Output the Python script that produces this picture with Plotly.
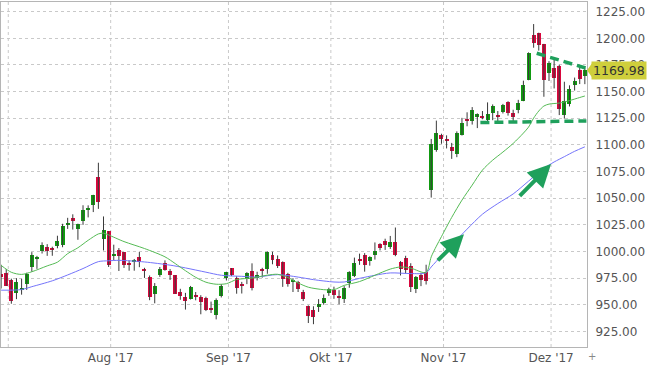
import plotly.graph_objects as go

# ---------------- data ----------------
dates = [
    "2017-06-29", "2017-06-30", "2017-07-03", "2017-07-05", "2017-07-06", "2017-07-07",
    "2017-07-10", "2017-07-11", "2017-07-12", "2017-07-13", "2017-07-14", "2017-07-17",
    "2017-07-18", "2017-07-19", "2017-07-20", "2017-07-21", "2017-07-24", "2017-07-25",
    "2017-07-26", "2017-07-27", "2017-07-28", "2017-07-31", "2017-08-01", "2017-08-02",
    "2017-08-03", "2017-08-04", "2017-08-07", "2017-08-08", "2017-08-09", "2017-08-10",
    "2017-08-11", "2017-08-14", "2017-08-15", "2017-08-16", "2017-08-17", "2017-08-18",
    "2017-08-21", "2017-08-22", "2017-08-23", "2017-08-24", "2017-08-25", "2017-08-28",
    "2017-08-29", "2017-08-30", "2017-08-31", "2017-09-01", "2017-09-05", "2017-09-06",
    "2017-09-07", "2017-09-08", "2017-09-11", "2017-09-12", "2017-09-13", "2017-09-14",
    "2017-09-15", "2017-09-18", "2017-09-19", "2017-09-20", "2017-09-21", "2017-09-22",
    "2017-09-25", "2017-09-26", "2017-09-27", "2017-09-28", "2017-09-29", "2017-10-02",
    "2017-10-03", "2017-10-04", "2017-10-05", "2017-10-06", "2017-10-09", "2017-10-10",
    "2017-10-11", "2017-10-12", "2017-10-13", "2017-10-16", "2017-10-17", "2017-10-18",
    "2017-10-19", "2017-10-20", "2017-10-23", "2017-10-24", "2017-10-25", "2017-10-26",
    "2017-10-27", "2017-10-30", "2017-10-31", "2017-11-01", "2017-11-02", "2017-11-03",
    "2017-11-06", "2017-11-07", "2017-11-08", "2017-11-09", "2017-11-10", "2017-11-13",
    "2017-11-14", "2017-11-15", "2017-11-16", "2017-11-17", "2017-11-20", "2017-11-21",
    "2017-11-22", "2017-11-24", "2017-11-27", "2017-11-28", "2017-11-29", "2017-11-30",
    "2017-12-01", "2017-12-04", "2017-12-05", "2017-12-06", "2017-12-07", "2017-12-08",
    "2017-12-11",
]

opens = [
    979.0, 980.1, 972.8, 961.5, 964.7, 969.6, 985.0, 993.0, 1000.7, 1004.6, 1002.4, 1004.7,
    1006.0, 1025.0, 1031.6, 1021.3, 1028.3, 1039.6, 1043.2, 1069.6, 1012.0, 1019.1, 996.1, 1001.8,
    999.5, 989.2, 990.7, 994.4, 982.5, 976.0, 960.0, 978.4, 988.9, 982.0, 977.8, 961.8,
    957.6, 955.8, 959.4, 957.4, 956.0, 946.5, 940.0, 958.4, 974.7, 984.2, 975.4, 968.6,
    974.0, 982.0, 975.5, 983.3, 984.0, 996.8, 993.0, 989.8, 978.8, 971.5, 971.4, 962.1,
    949.3, 945.5, 948.0, 951.9, 961.0, 964.0, 958.0, 955.5, 970.0, 977.0, 993.2, 997.0,
    991.0, 996.8, 1007.0, 1009.4, 1004.2, 1009.1, 990.0, 994.0, 986.7, 965.0, 977.5, 980.5,
    1058.1, 1095.0, 1109.0, 1105.4, 1097.8, 1091.2, 1109.2, 1124.7, 1122.8, 1126.0, 1126.1, 1123.0,
    1130.1, 1127.0, 1130.8, 1139.9, 1130.0, 1132.5, 1141.0, 1160.7, 1202.7, 1204.9, 1194.8, 1167.1,
    1172.1, 1173.9, 1128.3, 1138.0, 1156.6, 1170.4, 1164.6,
]

highs = [
    987.6, 983.5, 974.5, 975.0, 974.4, 980.1, 999.4, 995.9, 1008.6, 1006.9, 1004.5, 1014.8,
    1026.0, 1031.6, 1034.9, 1026.1, 1043.4, 1043.3, 1053.2, 1083.3, 1032.9, 1019.1, 1006.4, 1003.2,
    999.5, 991.7, 993.0, 999.5, 984.7, 977.5, 970.4, 985.5, 991.7, 983.5, 977.8, 965.0,
    961.2, 967.7, 962.0, 959.0, 957.6, 953.0, 956.0, 969.4, 981.0, 984.5, 976.8, 971.5,
    980.6, 988.9, 981.0, 984.7, 1000.0, 999.8, 996.3, 990.7, 980.0, 975.0, 972.5, 964.0,
    949.4, 948.6, 955.3, 959.7, 966.0, 967.0, 963.7, 967.5, 981.5, 994.3, 998.0, 998.5,
    995.5, 1008.5, 1007.8, 1012.0, 1014.6, 1022.5, 991.0, 996.0, 989.0, 977.0, 980.0, 987.6,
    1105.6, 1122.8, 1110.5, 1109.0, 1101.9, 1112.7, 1125.4, 1130.6, 1135.5, 1129.6, 1131.8, 1139.9,
    1138.0, 1131.8, 1138.5, 1141.0, 1133.0, 1142.3, 1160.3, 1186.8, 1213.4, 1205.3, 1194.8, 1178.6,
    1179.7, 1175.2, 1159.3, 1155.9, 1163.2, 1172.8, 1172.0,
]

lows = [
    965.3, 967.6, 951.0, 955.3, 959.5, 964.0, 981.0, 983.7, 998.1, 995.9, 996.0, 1003.0,
    1004.0, 1021.2, 1020.6, 1011.0, 1025.0, 1032.0, 1037.0, 1040.0, 1001.0, 985.5, 991.6, 981.7,
    984.6, 982.0, 982.0, 985.3, 975.2, 954.3, 951.4, 976.2, 982.0, 973.3, 960.3, 954.7,
    945.5, 955.0, 954.2, 941.1, 944.1, 942.3, 936.3, 956.9, 972.8, 976.9, 960.4, 960.6,
    969.4, 963.5, 972.8, 975.5, 979.1, 988.0, 984.5, 966.8, 967.0, 962.0, 962.0, 953.5,
    932.9, 931.8, 943.3, 950.1, 958.4, 955.6, 950.5, 951.7, 966.0, 976.0, 987.5, 981.1,
    986.7, 992.4, 1001.0, 1001.5, 1002.4, 995.6, 977.5, 979.5, 962.0, 961.0, 967.5, 969.0,
    1050.6, 1093.6, 1101.1, 1096.7, 1086.9, 1088.5, 1108.8, 1117.5, 1119.1, 1115.8, 1124.1, 1122.3,
    1123.2, 1121.6, 1129.5, 1127.5, 1121.0, 1129.7, 1141.0, 1160.7, 1191.2, 1188.5, 1145.2, 1160.0,
    1153.0, 1128.0, 1124.7, 1136.1, 1151.0, 1157.1, 1157.0,
]

closes = [
    975.9, 968.0, 953.7, 971.4, 965.1, 978.8, 996.5, 994.1, 1006.5, 1000.6, 1001.8, 1010.0,
    1024.4, 1026.9, 1028.7, 1025.7, 1039.0, 1039.9, 1052.8, 1046.0, 1020.0, 987.8, 996.2, 995.9,
    986.9, 987.6, 992.3, 989.8, 982.0, 956.9, 968.0, 983.3, 982.7, 978.2, 960.6, 958.5,
    953.3, 966.9, 958.0, 952.5, 945.3, 946.0, 954.1, 967.6, 980.6, 978.3, 965.3, 967.8,
    979.5, 965.9, 978.0, 982.6, 999.6, 992.2, 986.8, 974.2, 969.9, 973.2, 964.7, 955.1,
    939.8, 938.6, 950.9, 956.4, 964.5, 959.2, 957.1, 965.5, 980.9, 989.6, 991.0, 987.2,
    995.0, 1000.9, 1002.9, 1006.3, 1009.1, 997.0, 984.0, 982.9, 966.3, 975.9, 972.9, 972.4,
    1101.0, 1110.9, 1105.3, 1103.7, 1094.2, 1111.6, 1120.7, 1123.2, 1132.9, 1129.1, 1125.4, 1129.2,
    1136.8, 1126.7, 1137.3, 1129.9, 1126.3, 1139.5, 1156.2, 1186.0, 1195.8, 1193.6, 1161.3, 1176.8,
    1162.4, 1134.0, 1141.6, 1152.4, 1159.8, 1162.0, 1169.98,
]

# moving averages (date, value)
ma_green_dates = [
    "2017-06-29", "2017-07-03", "2017-07-06", "2017-07-10", "2017-07-13", "2017-07-17",
    "2017-07-19", "2017-07-21", "2017-07-25", "2017-07-27", "2017-07-28", "2017-07-31",
    "2017-08-03", "2017-08-09", "2017-08-15", "2017-08-17", "2017-08-21", "2017-08-23",
    "2017-08-25", "2017-08-29", "2017-08-31", "2017-09-05", "2017-09-08", "2017-09-13",
    "2017-09-15", "2017-09-19", "2017-09-21", "2017-09-25", "2017-09-28", "2017-10-02",
    "2017-10-04", "2017-10-09", "2017-10-12", "2017-10-17", "2017-10-19", "2017-10-23",
    "2017-10-26", "2017-10-27", "2017-10-30", "2017-10-31", "2017-11-02", "2017-11-06",
    "2017-11-08", "2017-11-10", "2017-11-14", "2017-11-16", "2017-11-20", "2017-11-22",
    "2017-11-24", "2017-11-27", "2017-11-28", "2017-11-29", "2017-11-30", "2017-12-04",
    "2017-12-06", "2017-12-08", "2017-12-11",
]
ma_green_vals = [
    987.0, 980.5, 978.5, 981.0, 986.5, 990.0,
    998.0, 1003.5, 1010.5, 1016.5, 1017.2, 1015.5,
    1009.3, 1002.8, 995.0, 988.7, 982.0, 975.8,
    971.2, 969.3, 969.8, 973.7, 975.1, 977.8,
    978.6, 975.6, 970.5, 966.5, 964.2, 964.2,
    968.2, 971.8, 977.7, 983.5, 985.5, 984.4,
    980.3, 995.0, 1005.0, 1014.0, 1032.0, 1048.2,
    1062.3, 1076.4, 1085.7, 1093.3, 1101.4, 1111.1,
    1116.7, 1125.2, 1131.8, 1136.5, 1138.3, 1139.3,
    1141.6, 1144.5, 1145.9,
]

ma_blue_dates = [
    "2017-06-29", "2017-07-06", "2017-07-10", "2017-07-14", "2017-07-19", "2017-07-24",
    "2017-07-27", "2017-07-31", "2017-08-02", "2017-08-09", "2017-08-16", "2017-08-21",
    "2017-08-25", "2017-08-30", "2017-09-06", "2017-09-11", "2017-09-15", "2017-09-21",
    "2017-09-26", "2017-10-02", "2017-10-04", "2017-10-09", "2017-10-12", "2017-10-17",
    "2017-10-23", "2017-10-26", "2017-10-27", "2017-10-31", "2017-11-02", "2017-11-07",
    "2017-11-10", "2017-11-15", "2017-11-20", "2017-11-24", "2017-11-29", "2017-12-01",
    "2017-12-05", "2017-12-07", "2017-12-11",
]
ma_blue_vals = [
    963.7, 964.3, 967.0, 972.5, 978.0, 984.0,
    990.5, 991.3, 991.7, 990.2, 987.2, 984.6,
    980.6, 977.7, 976.7, 976.1, 978.3, 976.0,
    973.6, 971.4, 971.4, 974.8, 977.7, 979.9,
    979.3, 980.0, 985.5, 996.0, 1006.0, 1021.0,
    1035.0, 1045.0, 1054.0, 1066.0, 1078.0, 1084.0,
    1089.0, 1094.0, 1098.2,
]

y_ticks = [925, 950, 975, 1000, 1025, 1050, 1075, 1100, 1125, 1150, 1175, 1200, 1225]
month_tick_text = ["", "Aug '17", "Sep '17", "Okt '17", "Nov '17", "Dez '17"]
last_price = 1169.98

# trend annotations (date, value)
trend_down = [("2017-11-28", 1186.0), ("2017-12-11", 1171.9)]
support = [("2017-11-10", 1121.0), ("2017-12-11", 1122.5)]
arrow1 = [("2017-10-30", 990.2), ("2017-11-06", 1016.2)]
arrow2 = [("2017-11-21", 1050.7), ("2017-11-30", 1082.0)]

# ---------------- figure ----------------
UP = "#119a11"
DOWN = "#d8073d"
GRID = "#c9c9c9"
TXT = "#555555"
FONT = "DejaVu Sans"

idx = {d: i for i, d in enumerate(dates)}
xs = list(range(len(dates)))

Y_MIN, Y_MAX = 910.4, 1234.1
X_MIN, X_MAX = -0.02, 114.42

fig = go.Figure()

# wicks
wx, wy = [], []
for i in xs:
    wx += [i, i, None]
    wy += [lows[i], highs[i], None]
fig.add_trace(go.Scatter(x=wx, y=wy, mode="lines",
                         line=dict(color="#3a3a3a", width=1),
                         hoverinfo="skip", showlegend=False))

# moving averages
fig.add_trace(go.Scatter(x=[idx[d] for d in ma_blue_dates], y=ma_blue_vals,
                         mode="lines", line=dict(color="#7474fb", width=1, shape="spline", smoothing=0.8),
                         showlegend=False, hoverinfo="skip"))
fig.add_trace(go.Scatter(x=[idx[d] for d in ma_green_dates], y=ma_green_vals,
                         mode="lines", line=dict(color="#55bb55", width=1, shape="spline", smoothing=0.8),
                         showlegend=False, hoverinfo="skip"))

# bodies
base = [min(o, c) for o, c in zip(opens, closes)]
height = [max(abs(c - o), 1.0) for o, c in zip(opens, closes)]
colors = [UP if c >= o else DOWN for o, c in zip(opens, closes)]
fig.add_trace(go.Bar(x=xs, y=height, base=base, width=0.78,
                     marker=dict(color=colors, line=dict(width=0)),
                     showlegend=False, hoverinfo="skip"))

# month grid positions (between last day of previous month and first of new month)
month_pos = []
prev = None
for i, d in enumerate(dates):
    m = d[:7]
    if prev is not None and m != prev:
        month_pos.append(i - 0.6)
    prev = m

shapes = []
for p in month_pos:
    shapes.append(dict(type="line", xref="x", yref="paper", x0=p, x1=p, y0=0, y1=1,
                       line=dict(color=GRID, width=1, dash="dot"), layer="below"))

DASH_C = "#1fa05c"
for seg in (trend_down, support):
    shapes.append(dict(type="line", xref="x", yref="y",
                       x0=idx[seg[0][0]] - 0.4, y0=seg[0][1],
                       x1=idx[seg[1][0]] + 0.3, y1=seg[1][1],
                       line=dict(color=DASH_C, width=3.5, dash="9px,5px")))

# price label pointer triangle
py = (last_price - Y_MIN) / (Y_MAX - Y_MIN)
pw = 586.3
ph = 344.7
shapes.append(dict(type="path", xref="paper", yref="paper",
                   path=f"M 1.0,{py} L {1 + 5 / pw},{py + 7 / ph} L {1 + 5 / pw},{py - 7 / ph} Z",
                   fillcolor="#cfcf3c", line=dict(width=0)))

annotations = []
annotations.append(dict(xref="paper", yref="y", x=1 + 4 / pw, y=last_price, xanchor="left",
                        yanchor="middle", text=f"{last_price:.2f}", showarrow=False,
                        bgcolor="#cfcf3c", borderpad=1,
                        font=dict(family=FONT, size=12.5, color="#333333")))
for a in (arrow1, arrow2):
    annotations.append(dict(xref="x", yref="y", axref="x", ayref="y",
                            x=idx[a[1][0]] + 0.4, y=a[1][1],
                            ax=idx[a[0][0]], ay=a[0][1],
                            text="", showarrow=True, arrowhead=2, arrowsize=1.15,
                            arrowwidth=4, arrowcolor=DASH_C, standoff=0))
annotations.append(dict(xref="paper", yref="paper", x=1 + 5 / pw, y=-9.5 / ph,
                        xanchor="center", yanchor="middle",
                        text="+", showarrow=False, font=dict(family=FONT, size=10, color="#888888")))

fig.update_layout(
    width=669, height=373, autosize=False,
    margin=dict(l=1, r=82, t=2, b=26),
    paper_bgcolor="white", plot_bgcolor="white",
    bargap=0, showlegend=False,
    shapes=shapes, annotations=annotations,
    font=dict(family=FONT, size=12, color=TXT),
)
fig.update_xaxes(range=[X_MIN, X_MAX], tickmode="array", tickvals=month_pos, ticktext=month_tick_text,
                 showgrid=False, zeroline=False, showline=True, linecolor="#b5b5b5", linewidth=1,
                 mirror=True, ticks="", tickfont=dict(family=FONT, size=12, color=TXT))
fig.update_yaxes(range=[Y_MIN, Y_MAX], side="right", tickmode="array", tickvals=y_ticks,
                 ticktext=[f"{v:.2f}" for v in y_ticks],
                 showgrid=True, gridcolor=GRID, griddash="dot", gridwidth=1,
                 zeroline=False, showline=True, linecolor="#b5b5b5", linewidth=1, mirror=True,
                 ticks="", ticklabelstandoff=5, tickfont=dict(family=FONT, size=12, color=TXT))

# remove the browser's default page margin so the figure sits at the window's top-left corner
fig.write_html("out.html", config={"displayModeBar": False},
               post_script="document.body.style.margin='0';")
